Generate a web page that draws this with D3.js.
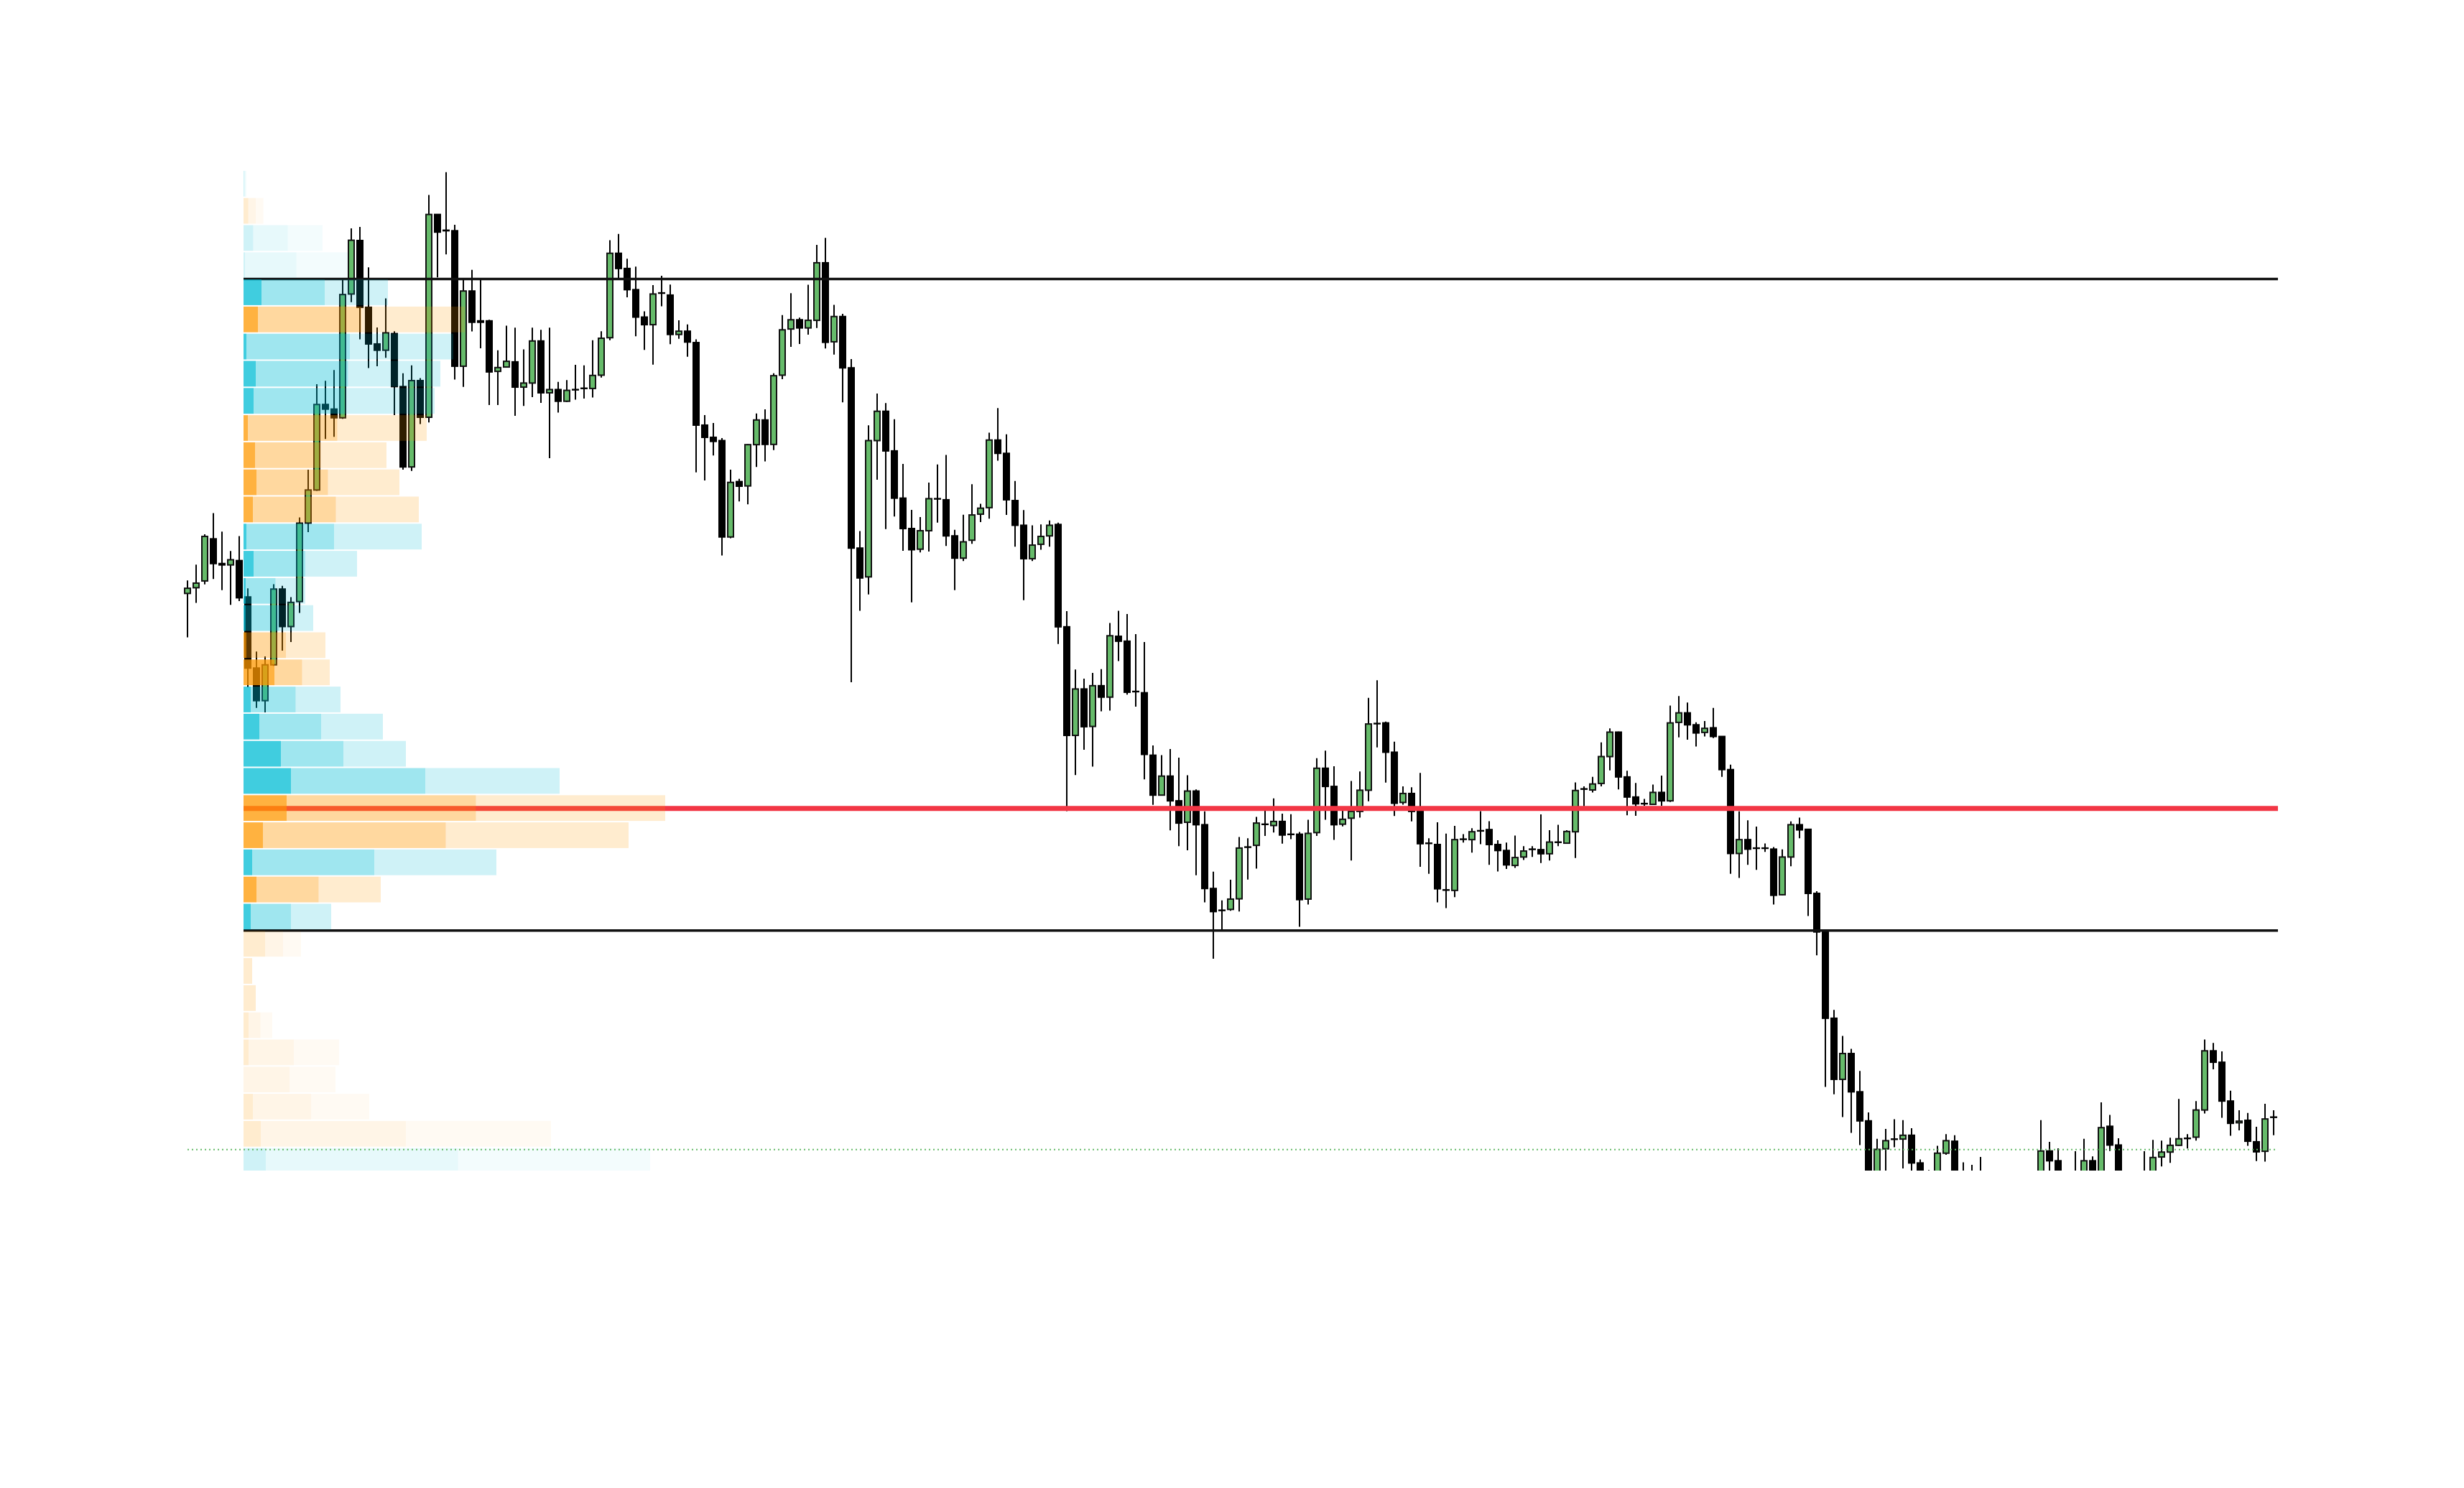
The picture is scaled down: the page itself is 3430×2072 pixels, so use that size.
<!DOCTYPE html>
<html>
<head>
<meta charset="utf-8">
<script src="https://cdn.jsdelivr.net/npm/d3@7"></script>
<style>
  html, body { margin: 0; padding: 0; background: #ffffff; }
</style>
</head>
<body>
<div id="chart-area"></div>
<script>
// candles, one per bar (price in bin units)
var opens = [21.42,21.63,21.88,23.43,22.52,22.47,22.63,21.29,18.67,17.47,
  18.79,21.58,20.20,21.12,24.01,25.23,28.38,28.21,27.89,32.45,
  34.42,31.96,30.61,30.38,30.99,29.04,26.08,29.26,27.91,35.38,
  34.80,34.78,29.79,32.56,31.46,31.46,29.60,29.76,29.95,29.02,
  29.17,30.72,28.81,28.93,28.50,28.93,28.98,28.97,29.46,30.84,
  33.95,33.39,32.61,31.60,31.32,32.49,32.41,30.96,31.08,30.66,
  27.62,27.17,27.05,23.50,25.54,25.38,26.90,27.81,26.91,29.46,
  31.16,31.50,31.20,31.48,33.60,30.69,31.62,29.73,23.09,22.03,
  27.05,28.13,26.67,24.93,23.81,23.05,23.73,24.91,24.87,23.54,
  22.72,23.38,24.34,24.58,27.07,26.58,24.84,23.93,22.70,23.23,
  23.54,23.96,20.19,16.19,17.90,16.52,18.02,17.60,19.84,19.66,
  17.81,17.76,15.46,13.99,14.69,13.78,12.99,14.14,12.90,10.55,
  9.75,9.78,10.17,12.08,12.14,12.92,12.87,13.02,12.55,12.55,
  10.16,12.61,14.98,14.31,12.92,13.14,13.39,14.17,16.63,16.65,
  15.57,13.72,14.05,13.39,12.22,12.17,10.50,10.48,12.37,12.35,
  12.68,12.72,12.17,11.95,11.40,11.71,12.00,11.98,11.83,12.26,
  12.22,12.64,14.22,14.18,14.42,15.41,16.31,14.66,13.92,13.68,
  13.65,14.09,13.78,16.67,17.02,16.58,16.30,16.47,16.15,14.93,
  11.84,12.35,12.04,12.04,12.00,10.32,11.71,12.90,12.73,10.37,
  8.95,5.77,3.52,4.47,3.06,1.99,-0.30,0.96,1.32,1.32,
  1.46,0.44,-0.10,-0.30,0.80,1.24,-0.10,-0.50,-0.30,-0.60,
  -0.90,-0.70,-1.00,-0.60,-0.40,-0.20,0.88,0.52,-0.20,-0.40,
  -0.10,0.52,-0.10,1.79,1.10,-0.10,-0.40,-0.20,-0.10,0.66,
  0.84,1.09,1.35,1.39,2.39,4.57,4.15,2.72,1.92,2.01,
  1.22,0.87,2.13];

var highs = [21.90,22.48,23.60,24.38,23.70,22.98,23.53,21.61,19.28,19.10,
  21.76,21.70,21.28,24.22,25.98,29.13,29.25,29.65,32.99,34.87,
  34.92,33.43,31.22,32.29,31.08,29.53,29.82,29.35,36.10,35.38,
  36.94,35.00,32.97,33.34,32.97,31.50,30.38,31.28,31.21,30.41,
  31.21,31.13,31.21,29.21,29.28,29.84,29.82,30.75,31.08,34.43,
  34.66,33.75,33.46,31.81,32.78,33.12,32.80,31.48,31.33,30.78,
  27.99,27.70,27.14,25.98,25.64,26.92,28.05,28.20,29.53,31.67,
  32.48,31.58,32.79,34.26,34.52,32.05,31.72,30.05,23.72,27.61,
  28.78,28.43,27.84,26.19,24.50,24.23,25.50,26.17,26.52,23.76,
  24.32,25.44,24.72,27.34,28.25,27.28,25.56,24.49,23.93,23.96,
  24.11,24.03,20.77,18.62,18.28,18.49,18.63,20.33,20.78,20.66,
  19.92,19.63,15.82,15.46,15.69,15.37,14.72,14.20,13.39,11.17,
  10.11,10.87,12.45,12.40,13.19,13.43,13.87,13.31,13.29,12.63,
  13.08,15.35,15.63,15.05,13.43,14.51,14.86,17.57,18.22,16.70,
  15.96,14.31,14.28,14.81,12.40,12.99,12.57,12.86,12.55,12.77,
  13.40,13.03,12.33,12.24,12.50,12.11,12.11,13.28,12.70,12.90,
  12.70,14.46,14.31,14.66,15.93,16.45,16.33,14.89,14.44,13.85,
  14.38,14.71,17.29,17.64,17.40,16.67,16.72,17.20,16.15,15.11,
  13.39,13.06,12.83,12.21,12.08,11.99,13.02,13.16,12.75,10.45,
  8.95,6.08,5.12,4.64,3.83,2.30,1.33,1.69,2.05,2.02,
  1.72,0.57,0.18,1.07,1.50,1.46,0.46,0.37,0.66,0.00,
  -0.30,-0.40,-0.20,-0.10,0.05,2.02,1.22,0.98,0.10,0.87,
  1.33,0.68,2.67,2.21,1.35,0.10,0.10,0.87,1.29,1.26,
  1.37,2.80,1.50,2.72,4.99,4.86,4.55,3.10,2.38,2.28,
  1.77,2.62,2.38];

var lows = [19.80,21.07,21.75,21.95,21.54,21.00,21.14,17.96,17.20,17.04,
  18.75,19.31,19.63,20.70,23.68,25.20,27.11,27.19,27.85,32.15,
  30.78,29.72,29.79,30.10,27.99,25.98,25.93,27.66,27.72,33.06,
  33.91,29.30,29.03,31.07,30.45,28.36,28.36,29.74,27.96,28.33,
  28.65,28.44,26.40,28.08,28.47,28.56,28.60,28.64,29.37,30.75,
  32.98,32.33,30.89,30.39,29.85,32.00,30.60,30.80,30.14,25.88,
  25.58,26.50,22.82,23.45,24.81,24.70,26.08,26.28,26.70,29.31,
  30.50,30.61,30.95,31.20,30.44,30.22,28.46,18.15,20.78,21.38,
  25.61,23.79,24.25,22.99,21.09,22.93,22.96,24.03,23.17,21.54,
  22.61,23.25,24.05,24.17,26.31,24.31,23.14,21.17,22.61,23.03,
  23.14,19.56,13.40,14.73,15.66,15.04,17.08,17.10,18.93,17.69,
  17.25,14.57,13.63,13.97,12.69,12.11,11.96,11.04,10.04,7.96,
  9.02,9.73,9.70,10.88,11.28,12.49,12.61,12.20,12.37,9.14,
  9.96,12.49,13.08,12.34,12.84,11.58,13.16,13.76,15.75,14.45,
  13.22,13.64,13.02,11.35,11.09,10.04,9.83,10.23,12.24,11.87,
  12.18,11.42,11.18,11.27,11.31,11.60,11.71,11.49,11.58,12.11,
  12.20,11.67,13.58,14.09,14.31,14.90,14.20,13.25,13.23,13.60,
  13.63,13.60,13.74,16.12,16.03,15.78,16.15,16.09,14.66,11.09,
  10.94,11.42,11.24,11.90,9.96,10.30,11.37,12.40,9.54,8.09,
  3.24,2.97,2.13,1.55,1.10,-0.60,-0.50,-0.20,1.02,0.24,
  -0.10,-0.50,-0.70,-0.50,0.74,-0.50,-0.80,-0.90,-1.00,-1.20,
  -1.30,-1.40,-1.30,-1.00,-0.80,-0.40,0.10,-0.50,-0.70,-0.60,
  -0.30,-0.40,-0.30,0.88,-0.40,-0.80,-0.70,-0.50,-0.30,0.31,
  0.44,1.07,0.97,1.26,2.26,3.89,2.10,1.44,1.64,1.07,
  0.51,0.49,1.46];

var closes = [21.61,21.80,23.52,22.52,22.47,22.66,21.26,18.67,17.47,18.79,
  21.58,20.20,21.09,24.01,25.23,28.38,28.21,27.89,32.43,34.43,
  31.96,30.61,30.38,31.02,29.04,26.08,29.26,27.91,35.38,34.73,
  34.78,29.79,32.56,31.41,31.41,29.58,29.74,29.97,29.02,29.17,
  30.72,28.81,28.93,28.50,28.90,28.92,28.97,29.45,30.82,33.95,
  33.39,32.61,31.60,31.32,32.45,32.48,30.96,31.08,30.68,27.62,
  27.17,27.02,23.50,25.51,25.37,26.90,27.81,26.91,29.44,31.13,
  31.50,31.20,31.48,33.60,30.67,31.62,29.73,23.09,21.99,27.05,
  28.13,26.67,24.93,23.81,23.03,23.73,24.91,24.90,23.54,22.72,
  23.32,24.31,24.56,27.07,26.58,24.87,23.93,22.70,23.20,23.52,
  23.93,20.19,16.19,17.90,16.51,18.02,17.60,19.86,19.66,17.78,
  17.80,15.49,13.99,14.69,13.78,12.96,14.14,12.90,10.55,9.70,
  9.74,10.16,12.04,12.07,12.96,12.91,13.02,12.52,12.54,10.14,
  12.58,14.98,14.31,12.90,13.10,13.39,14.17,16.61,16.62,15.57,
  13.69,14.05,13.39,12.20,12.21,10.54,10.49,12.35,12.36,12.64,
  12.67,12.17,11.95,11.42,11.69,11.93,11.99,11.83,12.26,12.25,
  12.65,14.16,14.21,14.40,15.41,16.31,14.66,13.92,13.67,13.67,
  14.09,13.78,16.65,17.02,16.58,16.28,16.45,16.15,14.93,11.84,
  12.35,12.00,12.03,12.03,10.30,11.71,12.90,12.71,10.37,8.95,
  5.77,3.52,4.47,3.06,1.99,-0.30,0.94,1.26,1.31,1.46,
  0.44,-0.20,-0.40,0.80,1.26,-0.20,-0.50,-0.30,-0.60,-0.90,
  -0.70,-1.00,-0.60,-0.40,-0.20,0.88,0.52,-0.20,-0.40,-0.10,
  0.52,-0.10,1.74,1.10,-0.10,-0.40,-0.20,-0.10,0.64,0.84,
  1.09,1.33,1.34,2.39,4.57,4.15,2.72,1.90,1.98,1.24,
  0.85,2.06,2.12];

// volume profile bins (bottom of each bin, top row first)
var binLow = [36,35,34,33,32,31,30,29,28,27,26,25,24,23,22,21,20,19,18,
  17,16,15,14,13,12,11,10,9,8,7,6,5,4,3,2,1,0];
var buyVol = [25,105,617,735,1130,1440,1480,1455,1400,1245,915,995,1155,1260,860,445,500,550,385,
  725,1080,1390,2530,2635,2545,1820,865,660,250,0,0,165,630,640,810,2020,2985];
var sellVol = [15,171,483,715,880,1640,1440,1285,1260,1305,1075,1175,1285,1220,720,415,470,590,815,
  625,860,870,1870,3235,2815,1700,1045,560,550,120,170,235,700,640,940,2260,2675];

// levels
var binSize = 1;
var vah = 33, poc = 13.5, val = 9;
var refLine = 0.93;
var profileStartBar = 7;

var width = 3430, height = 2072;
var plotBottom = 1630;

var svg = d3.select("#chart-area")
    .append("svg")
        .attr("width", width)
        .attr("height", height)
        .style("display", "block");

svg.append("defs").append("clipPath")
    .attr("id", "plot-clip")
    .append("rect")
        .attr("x", 0)
        .attr("y", 0)
        .attr("width", width)
        .attr("height", plotBottom);

var bars = d3.range(opens.length);

var xScale = d3.scaleBand()
    .domain(bars)
    .range([255, 3171])
    .paddingInner(1 / 3)
    .paddingOuter(1 / 6);

var yScale = d3.scaleLinear()
    .domain([0, 37])
    .range([1636, 237.4]);

var step = xScale.step(),
    bw = xScale.bandwidth();

function xMid(i) { return xScale(i) + bw / 2; }

var profileX0 = xMid(profileStartBar) - step / 2,
    lineX1 = xMid(bars.length - 1) + step / 2;

var g = svg.append("g").attr("clip-path", "url(#plot-clip)");

// candles
var candles = g.append("g").attr("class", "candles")
    .selectAll("g")
    .data(bars)
    .enter()
    .append("g");

candles.append("line")
    .attr("x1", function(i) { return xMid(i); })
    .attr("x2", function(i) { return xMid(i); })
    .attr("y1", function(i) { return yScale(highs[i]); })
    .attr("y2", function(i) { return yScale(lows[i]); })
    .attr("stroke", "#000")
    .attr("stroke-width", 2);

candles.append("rect")
    .attr("x", function(i) { return xScale(i); })
    .attr("width", bw)
    .attr("y", function(i) { return yScale(Math.max(opens[i], closes[i])); })
    .attr("height", function(i) {
        return Math.abs(yScale(opens[i]) - yScale(closes[i]));
    })
    .attr("fill", function(i) { return closes[i] > opens[i] ? "#66BB6A" : "#000"; })
    .attr("stroke", function(i) { return closes[i] > opens[i] ? "#111" : "#000"; })
    .attr("stroke-width", 2);

// value area high / low and point of control
g.append("line")
    .attr("x1", profileX0).attr("x2", lineX1)
    .attr("y1", yScale(vah)).attr("y2", yScale(vah))
    .attr("stroke", "#111")
    .attr("stroke-width", 3.5);

g.append("line")
    .attr("x1", profileX0).attr("x2", lineX1)
    .attr("y1", yScale(val)).attr("y2", yScale(val))
    .attr("stroke", "#111")
    .attr("stroke-width", 3.5);

g.append("line")
    .attr("x1", profileX0).attr("x2", lineX1)
    .attr("y1", yScale(poc)).attr("y2", yScale(poc))
    .attr("stroke", "#F23645")
    .attr("stroke-width", 7);

// profile rows: delta / larger side / total
var xVol = d3.scaleLinear()
    .domain([0, d3.max(binLow, function(d, k) { return buyVol[k] + sellVol[k]; })])
    .range([0, 587]);

var rows = binLow.map(function(lo, k) {
    var b = buyVol[k], s = sellVol[k];
    var inVA = lo >= val && lo + binSize <= vah;
    return {
        lo: lo,
        up: b > s,
        fade: inVA ? 1 : 0.25,
        segs: [[0, Math.abs(b - s)], [Math.abs(b - s), Math.max(b, s)], [Math.max(b, s), b + s]]
    };
});

var segAlpha = [0.75, 0.375, 0.1875];

var profile = g.append("g").attr("class", "profile")
    .selectAll("g")
    .data(rows)
    .enter()
    .append("g");

profile.selectAll("rect")
    .data(function(r) {
        return r.segs.map(function(s, j) {
            return { r: r, a: s[0], b: s[1], alpha: segAlpha[j] * r.fade };
        });
    })
    .enter()
    .append("rect")
        .attr("x", function(d) { return profileX0 + xVol(d.a); })
        .attr("width", function(d) { return Math.max(0, xVol(d.b) - xVol(d.a)); })
        .attr("y", function(d) { return yScale(d.r.lo + binSize) + 0.5; })
        .attr("height", function(d) { return yScale(d.r.lo) - yScale(d.r.lo + binSize) - 2; })
        .attr("fill", function(d) { return d.r.up ? "#00BCD4" : "#FF9800"; })
        .attr("fill-opacity", function(d) { return d.alpha; });

// dotted reference line
svg.append("line")
    .attr("x1", xMid(0)).attr("x2", lineX1)
    .attr("y1", yScale(refLine)).attr("y2", yScale(refLine))
    .attr("stroke", "#66BB6A")
    .attr("stroke-width", 2)
    .attr("stroke-dasharray", "2,4");
</script>
</body>
</html>
